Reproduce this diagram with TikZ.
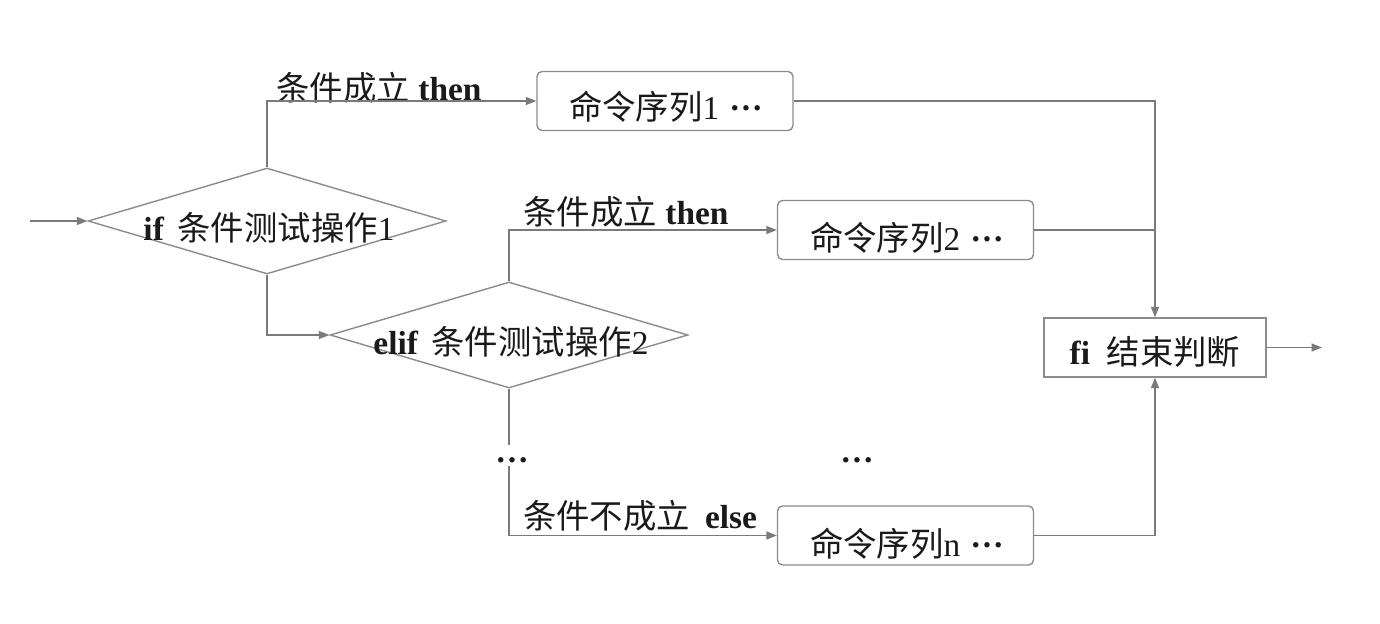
\documentclass[tikz,border=0pt]{standalone}
\usepackage{fontspec}
\setmainfont{Liberation Serif}
\newfontfamily\cjk{Noto Sans CJK SC}
\usetikzlibrary{shapes.geometric,arrows.meta}
\definecolor{linegray}{HTML}{7A7A7A}
\definecolor{boxgray}{HTML}{8C8C8C}
\definecolor{textblack}{HTML}{1A1A1A}
\newcommand{\middots}{\raisebox{0.28em}{\textbf{…}}}
\begin{document}
\begin{tikzpicture}[x=0.02cm,y=-0.02cm,
  font=\fontsize{19}{22}\selectfont,
  line/.style={draw=linegray,line width=0.8pt},
  arr/.style={line,-{Triangle[length=0.21cm,width=0.16cm]}},
  cmdbox/.style={draw=boxgray,line width=0.8pt,rounded corners=0.1cm,minimum width=5.12cm,minimum height=1.18cm,inner sep=0},
  endbox/.style={draw=boxgray,line width=0.8pt,minimum width=4.44cm,minimum height=1.18cm,inner sep=0},
  cond/.style={diamond,draw=boxgray,line width=0.8pt,inner sep=0,minimum width=7.16cm,minimum height=2.12cm},
  txt/.style={inner sep=0,text=textblack}]
\useasboundingbox (0,0) rectangle (1380,624);
\fill[white] (0,0) rectangle (1380,624);

% decision shapes
\node[cond] (d1) at (267,221) {};
\node[txt] (t1) at (269,228) {\textbf{if}\hspace{0.4em}{\cjk 条件测试操作}1};
\node[cond] (d2) at (509,335) {};
\node[txt] (t2) at (511,342) {\textbf{elif}\hspace{0.4em}{\cjk 条件测试操作}2};

% command boxes
\node[cmdbox] (b1) at (665,101) {};
\node[txt] (tb1) at (666,107) {{\cjk 命令序列}1\hspace{0.3em}\middots};
\node[cmdbox] (b2) at (905.5,230) {};
\node[txt] (tb2) at (907,238) {{\cjk 命令序列}2\hspace{0.3em}\middots};
\node[cmdbox] (bn) at (905.5,535.5) {};
\node[txt] (tbn) at (907,544) {{\cjk 命令序列}n\hspace{0.3em}\middots};

% end box
\node[endbox] (fi) at (1155,347.5) {};
\node[txt] (tfi) at (1155,352) {\textbf{fi}\hspace{0.5em}{\cjk 结束判断}};

% labels
\node[txt] (l1) at (379,88) {{\cjk 条件成立} \textbf{then}};
\node[txt] (l2) at (626,212) {{\cjk 条件成立} \textbf{then}};
\node[txt] (l3) at (640,516) {{\cjk 条件不成立}\hspace{0.45em}\textbf{else}};
\node[txt] (dots1) at (512,460) {\textbf{…}};
\node[txt] (dots2) at (857,460) {\textbf{…}};

% connectors
\coordinate (in) at (30,221);
\coordinate (out) at (1322,347.5);
\coordinate (c1) at (509,445);
\coordinate (c2) at (509,466);
\draw[arr] (in) -- (d1.west);
\draw[arr] (d1.north) |- (b1.west);
\draw[arr] (b1.east) -| (fi.north);
\draw[line] (b2.east) -- (b2.east -| fi.north);
\draw[arr] (d1.south) |- (d2.west);
\draw[arr] (d2.north) |- (b2.west);
\draw[line] (d2.south) -- (c1);
\draw[arr] (c2) |- (bn.west);
\draw[arr] (bn.east) -| (fi.south);
\draw[arr] (fi.east) -- (out);
\end{tikzpicture}
\end{document}
